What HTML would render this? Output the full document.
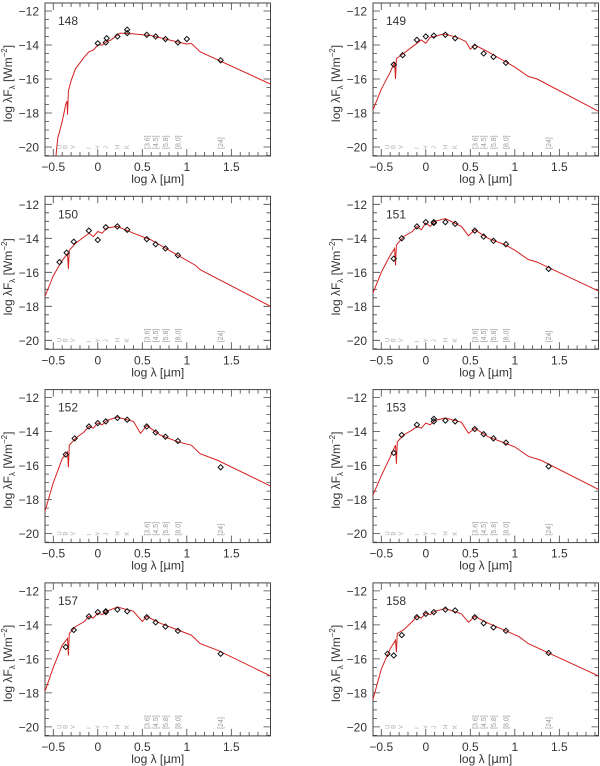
<!DOCTYPE html>
<html><head><meta charset="utf-8"><style>
html,body{margin:0;padding:0;background:#fff;}
svg{display:block;font-family:"Liberation Sans",sans-serif;}
</style></head><body>
<svg id="fig" width="600" height="766" viewBox="0 0 600 766"></svg>
<script>
const panelIds = ["148","149","150","151","152","153","157","158"];
const xTicks = [-0.5,0,0.5,1,1.5];
const xTickLabels = ["\u22120.5","0","0.5","1","1.5"];
const yTicks = [-12,-14,-16,-18,-20];
const yTickLabels = ["\u221212","\u221214","\u221216","\u221218","\u221220"];
const filterPos = [-0.43,-0.36,-0.28,-0.1,0.0,0.09,0.22,0.33];
const filterNames = ["U","B","V","I","Y","J","H","K"];
const iracPos = [0.55,0.65,0.76,0.9,1.38];
const iracNames = ["[3.6]","[4.5]","[5.8]","[8.0]","[24]"];

const model148 = [[-0.47,-20.5],[-0.45,-19.5],[-0.4,-18.5],[-0.36,-17.5],[-0.345,-17.3],[-0.34,-18.1],[-0.33,-16.7],[-0.3,-16.1],[-0.25,-15.4],[-0.15,-14.7],[-0.1,-14.4],[-0.05,-14.3],[0,-14.0],[0.05,-14.0],[0.1,-13.8],[0.15,-13.7],[0.2,-13.5],[0.25,-13.3],[0.4,-13.35],[0.6,-13.45],[0.8,-13.7],[1.0,-13.95],[1.05,-13.9],[1.15,-14.4],[1.94,-16.3]];
const phot148 = [[0.0,-13.9],[0.09,-13.85],[0.1,-13.6],[0.22,-13.5],[0.33,-13.1],[0.33,-13.3],[0.55,-13.4],[0.65,-13.5],[0.76,-13.65],[0.9,-13.85],[1.0,-13.65],[1.38,-14.9]];
const model149 = [[-0.6,-17.9],[-0.5,-16.6],[-0.4,-15.6],[-0.35,-15.0],[-0.34,-16.0],[-0.33,-14.8],[-0.25,-14.5],[-0.15,-14.1],[-0.1,-13.9],[-0.05,-13.7],[0,-13.9],[0.05,-13.55],[0.1,-13.5],[0.2,-13.35],[0.35,-13.55],[0.45,-13.8],[0.5,-14.25],[0.55,-14.0],[0.7,-14.4],[0.9,-15.0],[1.0,-15.3],[1.15,-15.85],[1.25,-16.0],[1.94,-17.9]];
const phot149 = [[-0.36,-15.15],[-0.26,-14.6],[-0.1,-13.7],[0.0,-13.5],[0.09,-13.45],[0.22,-13.4],[0.33,-13.6],[0.55,-14.1],[0.65,-14.5],[0.76,-14.7],[0.9,-15.05]];
const model150 = [[-0.6,-17.5],[-0.5,-16.2],[-0.4,-15.3],[-0.34,-14.9],[-0.33,-15.8],[-0.32,-14.7],[-0.25,-14.3],[-0.15,-13.9],[-0.1,-13.7],[-0.05,-13.9],[0,-13.6],[0.05,-13.7],[0.1,-13.4],[0.22,-13.3],[0.4,-13.7],[0.6,-14.1],[0.9,-15.0],[1.1,-15.6],[1.15,-15.85],[1.94,-18.0]];
const phot150 = [[-0.43,-15.4],[-0.35,-14.85],[-0.27,-14.2],[-0.1,-13.55],[0.0,-14.1],[0.09,-13.35],[0.22,-13.3],[0.33,-13.5],[0.55,-14.05],[0.65,-14.35],[0.76,-14.6],[0.9,-15.0]];
const model151 = [[-0.6,-17.3],[-0.5,-16.0],[-0.4,-15.0],[-0.35,-14.6],[-0.34,-15.6],[-0.33,-14.4],[-0.25,-13.9],[-0.15,-13.6],[-0.1,-13.3],[-0.05,-13.5],[0,-13.1],[0.05,-13.3],[0.1,-13.0],[0.22,-12.85],[0.4,-13.3],[0.48,-13.85],[0.55,-13.5],[0.7,-14.0],[0.9,-14.4],[1.0,-14.7],[1.15,-15.25],[1.25,-15.4],[1.94,-17.1]];
const phot151 = [[-0.36,-15.2],[-0.27,-14.0],[-0.1,-13.3],[0.0,-13.05],[0.09,-13.1],[0.09,-13.05],[0.22,-13.05],[0.33,-13.15],[0.55,-13.55],[0.65,-13.9],[0.76,-14.15],[0.9,-14.35],[1.38,-15.8]];
const model152 = [[-0.6,-18.8],[-0.5,-17.0],[-0.4,-15.6],[-0.34,-15.2],[-0.33,-16.1],[-0.32,-14.8],[-0.25,-14.4],[-0.15,-14.0],[-0.1,-13.7],[-0.05,-13.8],[0,-13.5],[0.05,-13.6],[0.1,-13.35],[0.22,-13.15],[0.4,-13.4],[0.48,-14.1],[0.55,-13.65],[0.7,-14.2],[0.9,-14.6],[1.05,-14.8],[1.15,-15.3],[1.35,-15.7],[1.94,-17.2]];
const phot152 = [[-0.36,-15.35],[-0.26,-14.4],[-0.1,-13.7],[0,-13.5],[0.09,-13.4],[0.22,-13.2],[0.33,-13.3],[0.55,-13.7],[0.65,-14.05],[0.76,-14.3],[0.9,-14.55],[1.38,-16.1]];
const model153 = [[-0.6,-17.8],[-0.5,-16.6],[-0.4,-15.5],[-0.34,-14.8],[-0.33,-15.9],[-0.32,-14.6],[-0.25,-14.2],[-0.15,-13.9],[-0.1,-13.7],[-0.05,-13.8],[0,-13.5],[0.05,-13.6],[0.1,-13.35],[0.22,-13.2],[0.4,-13.45],[0.48,-14.1],[0.55,-13.8],[0.7,-14.3],[0.9,-14.7],[1.0,-14.9],[1.15,-15.45],[1.3,-15.7],[1.94,-17.4]];
const phot153 = [[-0.36,-15.25],[-0.27,-14.2],[-0.1,-13.6],[0.09,-13.4],[0.09,-13.25],[0.22,-13.35],[0.33,-13.4],[0.55,-13.85],[0.65,-14.15],[0.76,-14.4],[0.9,-14.65],[1.38,-16.05]];
const model157 = [[-0.6,-18.0],[-0.5,-16.5],[-0.4,-15.2],[-0.34,-14.8],[-0.33,-15.8],[-0.32,-14.5],[-0.25,-14.1],[-0.15,-13.8],[-0.1,-13.5],[-0.05,-13.6],[0,-13.3],[0.05,-13.4],[0.1,-13.2],[0.22,-12.95],[0.4,-13.2],[0.5,-13.8],[0.55,-13.5],[0.7,-13.9],[0.9,-14.3],[1.05,-14.6],[1.15,-15.1],[1.35,-15.5],[1.94,-17.0]];
const phot157 = [[-0.36,-15.3],[-0.27,-14.3],[-0.1,-13.5],[0,-13.25],[0.09,-13.2],[0.09,-13.25],[0.22,-13.1],[0.33,-13.2],[0.55,-13.55],[0.65,-13.85],[0.76,-14.1],[0.9,-14.35],[1.38,-15.7]];
const model158 = [[-0.6,-18.5],[-0.5,-16.6],[-0.4,-15.4],[-0.34,-14.9],[-0.33,-15.6],[-0.32,-14.5],[-0.25,-14.3],[-0.15,-13.8],[-0.1,-13.5],[-0.05,-13.6],[0,-13.3],[0.05,-13.4],[0.1,-13.2],[0.22,-13.05],[0.4,-13.35],[0.48,-13.85],[0.55,-13.5],[0.7,-13.9],[0.9,-14.35],[1.05,-14.7],[1.15,-15.1],[1.94,-17.0]];
const phot158 = [[-0.43,-15.7],[-0.36,-15.8],[-0.27,-14.6],[-0.1,-13.55],[0,-13.35],[0.09,-13.25],[0.22,-13.1],[0.33,-13.15],[0.55,-13.55],[0.65,-13.9],[0.76,-14.15],[0.9,-14.35],[1.38,-15.65]];

const models = [model148,model149,model150,model151,model152,model153,model157,model158];
const phots = [phot148,phot149,phot150,phot151,phot152,phot153,phot157,phot158];

const NS="http://www.w3.org/2000/svg";
const svg=document.getElementById('fig');
function mk(tag,attrs,parent){const e=document.createElementNS(NS,tag);for(const k in attrs)e.setAttribute(k,attrs[k]);(parent||svg).appendChild(e);return e;}
const XMIN=-0.593, XMAX=1.94, YMIN=-20.53, YMAX=-11.53, W=225.5, H=153;

panelIds.forEach((id,i)=>{
  const col=i%2,row=Math.floor(i/2);
  const L=45+col*328, T=3+row*193.3;
  const sx=v=>L+(v-XMIN)/(XMAX-XMIN)*W;
  const sy=v=>T+(YMAX-v)/(YMAX-YMIN)*H;
  const g=mk('g',{});
  
  
  const clipId='clip'+i;
  const cp=mk('clipPath',{id:clipId},g);mk('rect',{x:L,y:T,width:W,height:H},cp);
  let d='';
  for(let k=-6;k<=19;k++){const v=k/10;if(v<XMIN||v>XMAX)continue;const x=sx(v);const len=(k%5===0)?7:4;d+=`M${x},${T+H}v${-len}M${x},${T}v${len}`;}
  for(let k=-41;k<=-23;k++){const v=k/2;if(v<YMIN||v>YMAX)continue;const y=sy(v);const len=(k%4===0)?7:4;d+=`M${L},${y}h${len}M${L+W},${y}h${-len}`;}
  const tk=mk('path',{d:d,stroke:'#444',"stroke-width":0.8,fill:'none'},g);
  
  
  const fr=mk('rect',{x:L,y:T,width:W,height:H,fill:'none',stroke:'#444',"stroke-width":1},g);
  
  
  xTicks.forEach((v,j)=>{const t=mk('text',{x:sx(v),y:T+H+15,"text-anchor":'middle',"font-size":12,fill:'#333'},g);t.textContent=xTickLabels[j];
    
    });
  yTicks.forEach((v,j)=>{const t=mk('text',{x:L-6,y:sy(v)+4.5,"text-anchor":'end',"font-size":12,fill:'#333'},g);t.textContent=yTickLabels[j];
    
    });
  const xt=mk('text',{x:L+W/2,y:T+H+27,"text-anchor":'middle',"font-size":12,fill:'#333'},g);
  xt.innerHTML='log &#955; [<tspan font-family="DejaVu Sans">&#956;</tspan>m]';
  
  
  const yt=mk('text',{x:0,y:0,"text-anchor":'middle',"font-size":12,fill:'#333',transform:`translate(${L-33},${T+H/2+4}) rotate(-90)`},g);
  yt.innerHTML='log &#955;F<tspan font-size="8" dy="3">&#955;</tspan><tspan dy="-3"> [Wm</tspan><tspan font-size="8" dy="-5">&#8722;2</tspan><tspan dy="5">]</tspan>';
  
  
  const lbl=mk('text',{x:L+13,y:T+22,"font-size":12,fill:'#333'},g);lbl.textContent=id;
  
  
  filterPos.forEach((v,j)=>{const t=mk('text',{x:0,y:0,"font-size":6,fill:'#aaa',transform:`translate(${sx(v)+2},${sy(-20)+2}) rotate(-90)`},g);t.textContent=filterNames[j];
    
    });
  iracPos.forEach((v,j)=>{const t=mk('text',{x:0,y:0,"font-size":7,fill:'#999',transform:`translate(${sx(v)+2.5},${sy(-20)+2}) rotate(-90)`},g);t.textContent=iracNames[j];
    
    });
  const m=models[i];
  const ln=mk('path',{d:m.map((p,j)=>(j?'L':'M')+sx(p[0]).toFixed(1)+','+sy(p[1]).toFixed(1)).join(''),stroke:'#d42020',"stroke-width":1,fill:'none',"clip-path":`url(#${clipId})`},g);
  
  
  phots[i].forEach(p=>{const x=sx(p[0]),y=sy(p[1]);
    const pt=mk('path',{d:`M${x},${y-2.6}L${x+2.6},${y}L${x},${y+2.6}L${x-2.6},${y}Z`,fill:'none',stroke:'#111',"stroke-width":1},g);
    
    });
});
</script>
</body></html>
